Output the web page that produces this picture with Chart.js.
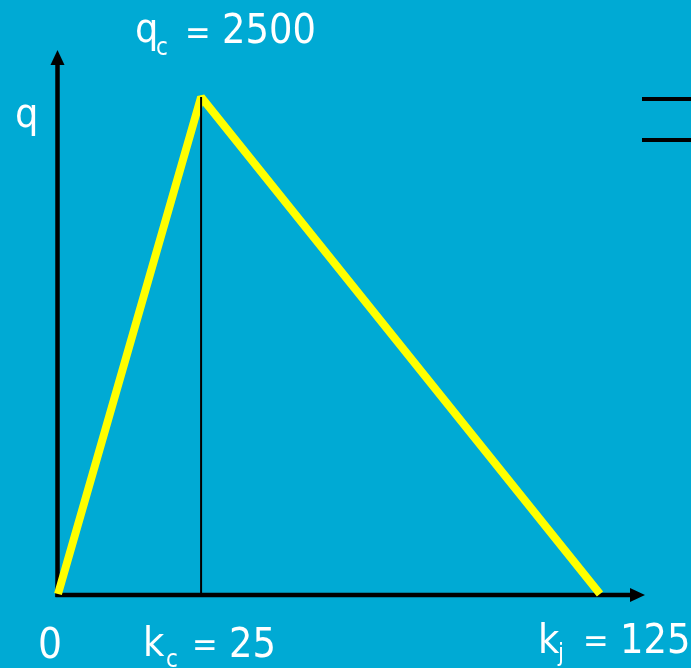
<!DOCTYPE html>
<html>
<head>
<meta charset="utf-8">
<script src="https://cdn.jsdelivr.net/npm/chart.js@4.4.0/dist/chart.umd.min.js"></script>
<style>
  html, body { margin: 0; padding: 0; background: #00aad4; }
  canvas { display: block; }
</style>
</head>
<body>
<canvas id="fdChart" width="691" height="668"></canvas>
<script>
// triangular fundamental diagram: flow q against density k
const densities = [0, 25, 125];
const flows = [0, 2500, 0];
const kCritical = 25;
const qCapacity = 2500;
const kJam = 125;

const FONT = '"DejaVu Sans Condensed", "DejaVu Sans", sans-serif';

// the sketch is not to scale: the free-flow branch gets more room than k alone would give
class SketchScale extends Chart.LinearScale {
    static id = 'sketch';
    static defaults = Chart.LinearScale.defaults;

    knots() {
        return [[this.min, 0], [kCritical, 0.264], [this.max, 1]];
    }

    getPixelForValue(value) {
        const k = this.knots();
        let i = 0;
        while (i < k.length - 2 && value > k[i + 1][0]) i++;
        const [v0, f0] = k[i];
        const [v1, f1] = k[i + 1];
        const f = f0 + (value - v0) / (v1 - v0) * (f1 - f0);
        return this.left + f * this.width;
    }

    getValueForPixel(pixel) {
        const f = (pixel - this.left) / this.width;
        const k = this.knots();
        let i = 0;
        while (i < k.length - 2 && f > k[i + 1][1]) i++;
        const [v0, f0] = k[i];
        const [v1, f1] = k[i + 1];
        return v0 + (f - f0) / (f1 - f0) * (v1 - v0);
    }
}
Chart.register(SketchScale);

function arrowLine(ctx, x0, y0, x1, y1) {
    const ang = Math.atan2(y1 - y0, x1 - x0);
    const head = 15, half = 7;
    const bx = x1 - head * Math.cos(ang), by = y1 - head * Math.sin(ang);
    ctx.beginPath();
    ctx.moveTo(x0, y0);
    ctx.lineTo(bx, by);
    ctx.stroke();
    ctx.beginPath();
    ctx.moveTo(x1, y1);
    ctx.lineTo(bx + half * Math.sin(ang), by - half * Math.cos(ang));
    ctx.lineTo(bx - half * Math.sin(ang), by + half * Math.cos(ang));
    ctx.closePath();
    ctx.fill();
}

function text(ctx, str, x, y, size) {
    ctx.font = size + 'px ' + FONT;
    ctx.fillText(str, x, y);
}

const sketchDecor = {
    id: 'sketchDecor',
    beforeDraw(chart) {
        const ctx = chart.ctx;
        ctx.save();
        ctx.fillStyle = '#00aad4';
        ctx.fillRect(0, 0, chart.width, chart.height);
        ctx.restore();
    },
    beforeDatasetsDraw(chart) {
        const ctx = chart.ctx;
        const x = chart.scales.x, y = chart.scales.y;
        const ox = x.getPixelForValue(0) - 0.5;
        const oy = y.getPixelForValue(0) + 1;
        ctx.save();
        ctx.strokeStyle = '#000';
        ctx.fillStyle = '#000';
        ctx.lineWidth = 4.5;
        arrowLine(ctx, ox, oy + 2, ox, 50);
        arrowLine(ctx, ox - 2, oy, 645, oy);
        // pair of rules on the right edge
        ctx.fillRect(642, 97, 49, 4);
        ctx.fillRect(642, 138, 49, 4);
        ctx.restore();
    },
    afterDraw(chart) {
        const ctx = chart.ctx;
        const x = chart.scales.x;
        const ox = x.getPixelForValue(0);
        const xc = x.getPixelForValue(kCritical);
        const xj = x.getPixelForValue(kJam);
        ctx.save();
        ctx.fillStyle = '#fff';
        ctx.textBaseline = 'alphabetic';
        ctx.textAlign = 'left';

        // axis name
        text(ctx, 'q', 15, 127, 41);

        // capacity label above the peak
        text(ctx, 'q', xc - 66, 42, 41);
        text(ctx, 'c', xc - 45, 55, 24);
        text(ctx, '=', xc - 16, 44, 34);
        text(ctx, String(qCapacity), xc + 21, 43, 41);

        // density labels under the axis
        text(ctx, '0', ox - 20, 658, 42);
        text(ctx, 'k', xc - 58, 656, 41);
        text(ctx, 'c', xc - 35, 667, 24);
        text(ctx, '=', xc - 9, 656, 34);
        text(ctx, String(kCritical), xc + 28, 657, 41);

        text(ctx, 'k', xj - 62, 653, 41);
        text(ctx, 'j', xj - 42, 661, 24);
        text(ctx, '=', xj - 17, 652, 34);
        text(ctx, String(kJam), xj + 20, 653, 41);
        ctx.restore();
    }
};

new Chart(document.getElementById('fdChart'), {
    type: 'line',
    data: {
        datasets: [
            {
                // critical density marker
                data: [{ x: kCritical, y: 0 }, { x: kCritical, y: qCapacity }],
                borderColor: '#000',
                borderWidth: 2,
                pointRadius: 0,
                clip: false,
                order: 0
            },
            {
                data: densities.map((k, i) => ({ x: k, y: flows[i] })),
                borderColor: '#ffff00',
                borderWidth: 8,
                borderJoinStyle: 'bevel',
                pointRadius: 0,
                tension: 0,
                clip: false,
                order: 1
            }
        ]
    },
    options: {
        responsive: false,
        animation: false,
        layout: { padding: { left: 58, right: 91, top: 97, bottom: 74 } },
        plugins: {
            legend: { display: false },
            tooltip: { enabled: false }
        },
        scales: {
            x: { type: 'sketch', min: 0, max: kJam, display: false },
            y: { type: 'linear', min: 0, max: qCapacity, display: false }
        }
    },
    plugins: [sketchDecor]
});
</script>
</body>
</html>
